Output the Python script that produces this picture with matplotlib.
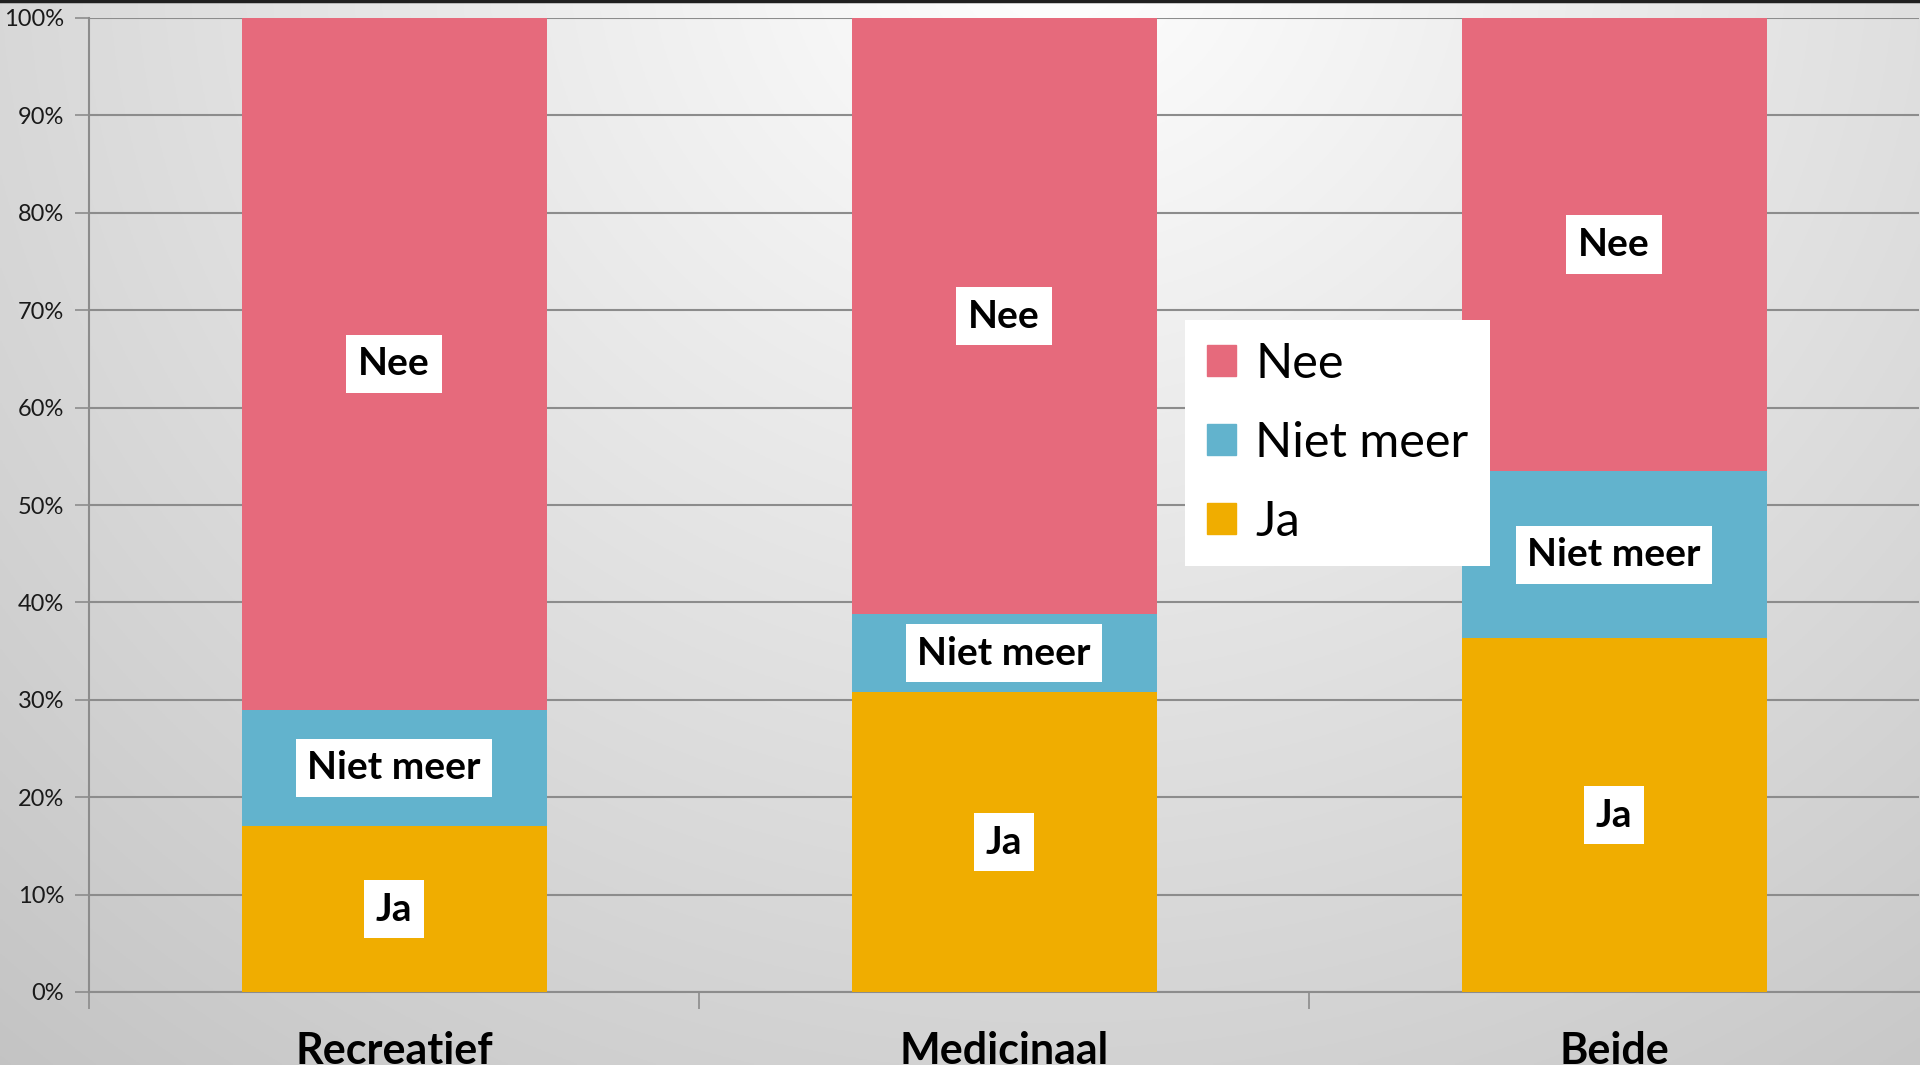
import numpy as np
import matplotlib
matplotlib.use("Agg")
import matplotlib.pyplot as plt
from matplotlib.patches import Patch

categories = ["Recreatief", "Medicinaal", "Beide"]
ja = [17.0, 30.8, 36.3]
niet_meer = [12.0, 8.0, 17.2]
nee = [71.0, 61.2, 46.5]
yticks = [0, 10, 20, 30, 40, 50, 60, 70, 80, 90, 100]
ytick_labels = [f"{v}%" for v in yticks]

col_nee = "#E66A7C"
col_niet = "#62B3CD"
col_ja = "#F0AD00"

plt.rcParams['font.family'] = ['Lato', 'DejaVu Sans']

fig = plt.figure(figsize=(19.2, 10.65), dpi=100)

# background radial gradient
bg = fig.add_axes([0, 0, 1, 1], zorder=-10)
h, w = 400, 720
yy, xx = np.mgrid[0:h, 0:w]
xn = xx / (w - 1)
yn = 1 - yy / (h - 1)
d = np.sqrt(((xn - 0.55) / 0.75) ** 2 + ((yn - 1.05) / 1.25) ** 2)
val = 1.0 - 0.25 * np.clip(d, 0, 1.2) / 1.2
img = np.dstack([val, val, val])
bg.imshow(img, aspect='auto', extent=[0, 1, 0, 1], origin='upper')
bg.set_axis_off()
bg.plot([0, 1], [0.999, 0.999], color="#202020", lw=2.5, transform=bg.transAxes)

ax = fig.add_axes([89 / 1920, 1 - 992 / 1065, 1830 / 1920, (992 - 18) / 1065])
ax.patch.set_alpha(0)

x = np.arange(len(categories))
width = 0.5
ax.bar(x, ja, width, color=col_ja, zorder=3)
ax.bar(x, niet_meer, width, bottom=ja, color=col_niet, zorder=3)
bottom3 = [a + b for a, b in zip(ja, niet_meer)]
ax.bar(x, nee, width, bottom=bottom3, color=col_nee, zorder=3)

box = dict(boxstyle="square,pad=0.3", facecolor="white", edgecolor="none")
for i in range(len(categories)):
    ax.text(x[i], ja[i] / 2, "Ja", ha="center", va="center", fontsize=28,
            fontweight="bold", color="black", bbox=box, zorder=5)
    ax.text(x[i], ja[i] + niet_meer[i] / 2, "Niet meer", ha="center", va="center",
            fontsize=28, fontweight="bold", color="black", bbox=box, zorder=5)
    ax.text(x[i], bottom3[i] + nee[i] / 2, "Nee", ha="center", va="center",
            fontsize=28, fontweight="bold", color="black", bbox=box, zorder=5)

ax.set_xlim(-0.5, 2.5)
ax.set_ylim(0, 100)
ax.set_yticks(yticks)
ax.set_yticklabels(ytick_labels, fontsize=17, color="#1a1a1a")
ax.yaxis.grid(True, color="#8c8c8c", lw=1.5, zorder=1)
ax.set_axisbelow(True)
ax.tick_params(axis='y', length=10, width=1.2, color="#8c8c8c", pad=8)

ax.set_xticks(x)
ax.set_xticklabels(categories, fontsize=31, fontweight="bold", color="black")
ax.tick_params(axis='x', which='major', length=0, pad=28)
ax.set_xticks([-0.5, 0.5, 1.5], minor=True)
ax.tick_params(axis='x', which='minor', length=12, width=1.2, color="#8c8c8c")

for s in ["top", "right"]:
    ax.spines[s].set_visible(False)
for s in ["left", "bottom"]:
    ax.spines[s].set_color("#8c8c8c")
    ax.spines[s].set_linewidth(1.5)

handles = [Patch(color=col_nee), Patch(color=col_niet), Patch(color=col_ja)]
leg = ax.legend(handles, ["Nee", "Niet meer", "Ja"], loc="upper left",
                bbox_to_anchor=((1185 - 89) / 1830, (992 - 320) / 974),
                fontsize=35, frameon=True, fancybox=False, framealpha=1,
                facecolor="white", edgecolor="none", handlelength=0.6,
                handleheight=0.6, handletextpad=0.4, labelspacing=0.72,
                borderpad=0.45, borderaxespad=0)
leg.set_zorder(6)

fig.savefig("out.png", dpi=100)
